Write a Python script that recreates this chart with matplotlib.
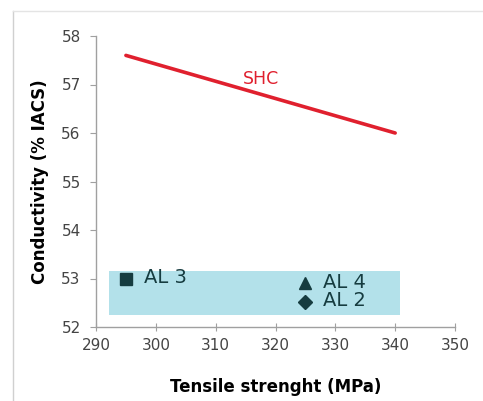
import matplotlib
matplotlib.use('Agg')
import matplotlib.pyplot as plt
from matplotlib.patches import Rectangle
from matplotlib.lines import Line2D

# SHC line
shc_x = [295, 340]
shc_y = [57.6, 56.0]

# AL points
al_names = ['AL 3', 'AL 4', 'AL 2']
al_x = [295, 325, 325]
al_y = [53.0, 52.9, 52.52]
al_markers = ['s', '^', 'D']

# shaded band
band_x = [292.2, 340.8]
band_y = [52.25, 53.15]

fig = plt.figure(figsize=(4.83, 4.01), dpi=100)
ax = fig.add_axes([96 / 483, 1 - 327 / 401, (455 - 96) / 483, (327 - 36) / 401])

ax.add_patch(Rectangle((band_x[0], band_y[0]), band_x[1] - band_x[0], band_y[1] - band_y[0],
                       facecolor='#b3e1ea', edgecolor='none', zorder=1))

ax.plot(shc_x, shc_y, color='#e0202e', linewidth=2.6, solid_capstyle='round', zorder=3)
ax.text(317.5, 56.93, 'SHC', color='#e0202e', fontsize=12.5, ha='center', va='bottom')

sizes = [8.5, 8.5, 7]
for name, x, y, m, s in zip(al_names, al_x, al_y, al_markers, sizes):
    ax.plot(x, y, marker=m, color='#163c40', markersize=s, linestyle='none', zorder=4)
    ax.text(x + 3.0, y + 0.02, name, color='#163c40', fontsize=14, ha='left', va='center')

ax.set_xlim(290, 350)
ax.set_ylim(52, 58)
ax.set_xticks(range(290, 351, 10))
ax.set_yticks(range(52, 59))

ax.spines['top'].set_visible(False)
ax.spines['right'].set_visible(False)
for sp in ['left', 'bottom']:
    ax.spines[sp].set_color('#a0a0a0')
    ax.spines[sp].set_linewidth(1)
ax.tick_params(axis='x', direction='inout', length=6, colors='#a0a0a0', labelcolor='#444444',
               labelsize=11, pad=5)
ax.tick_params(axis='y', direction='out', length=4, colors='#a0a0a0', labelcolor='#444444',
               labelsize=11, pad=7)

ax.set_xlabel('Tensile strenght (MPa)', fontsize=12, fontweight='bold', labelpad=18)
ax.set_ylabel('Conductivity (% IACS)', fontsize=12, fontweight='bold', labelpad=9)

# outer frame lines
fig.add_artist(Line2D([13 / 483, 13 / 483], [0, 1 - 11 / 401], color='#d0d0d0', linewidth=1,
                      transform=fig.transFigure))
fig.add_artist(Line2D([13 / 483, 1], [1 - 11 / 401, 1 - 11 / 401], color='#e4e4e4', linewidth=1,
                      transform=fig.transFigure))

fig.savefig('out.png', dpi=100)
